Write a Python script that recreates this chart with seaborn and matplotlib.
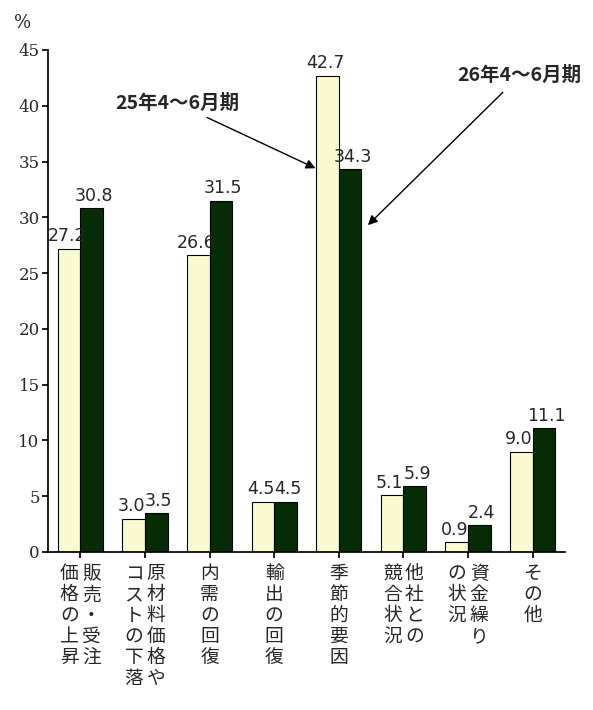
import matplotlib
matplotlib.use("Agg")
import matplotlib.pyplot as plt
import seaborn as sns
import pandas as pd

cats = ["販売・受注価格の上昇", "原材料価格やコストの下落", "内需の回復", "輸出の回復",
        "季節的要因", "他社との競合状況", "資金繰りの状況", "その他"]
label_cols = [["販売・受注", "価格の上昇"], ["原材料価格や", "コストの下落"], ["内需の回復"],
              ["輸出の回復"], ["季節的要因"], ["他社との", "競合状況"], ["資金繰り", "の状況"], ["その他"]]
s25 = [27.2, 3.0, 26.6, 4.5, 42.7, 5.1, 0.9, 9.0]
s26 = [30.8, 3.5, 31.5, 4.5, 34.3, 5.9, 2.4, 11.1]
series = ["25年4〜6月期", "26年4〜6月期"]

sns.set_theme(style="white")
plt.rcParams['font.family'] = ['Noto Sans CJK JP', 'DejaVu Sans']

df = pd.DataFrame({"cat": cats * 2, "val": s25 + s26,
                   "ser": [series[0]] * 8 + [series[1]] * 8})

fig = plt.figure(figsize=(5.93, 7.1), dpi=100)
ax = fig.add_axes([48/593, 1 - 552/710, 517/593, 502/710])
sns.barplot(data=df, x="cat", y="val", hue="ser", palette=["#FFFFCC", "#003300"],
            edgecolor="black", linewidth=0.8, width=0.7, ax=ax, legend=False)
ax.set_ylim(0, 45)
ax.set_xlim(-0.5, 7.5)
ax.set_yticks(range(0, 46, 5))
ax.set_yticklabels([str(v) for v in range(0, 46, 5)], family="DejaVu Serif", fontsize=12)
ax.set_xticks(range(8))
ax.set_xticklabels([])
ax.set_xlabel(""); ax.set_ylabel("")
for s in ["top", "right"]:
    ax.spines[s].set_visible(False)
for s in ["left", "bottom"]:
    ax.spines[s].set_color("black")
ax.tick_params(axis="y", left=True, length=4, color="black", pad=2)
ax.tick_params(axis="x", bottom=True, length=4, color="black")
fig.text(14/593, 1 - 28/710, "%", family="DejaVu Serif", fontsize=13)

for i in range(8):
    ax.text(i - 0.21, s25[i] + 0.3, f"{s25[i]:.1f}", ha="center", va="bottom", fontsize=12.5,
            family="DejaVu Sans")
    ax.text(i + 0.21, s26[i] + 0.3, f"{s26[i]:.1f}", ha="center", va="bottom", fontsize=12.5,
            family="DejaVu Sans")
    cols = label_cols[i]
    n = len(cols)
    offs = [0.0] if n == 1 else [0.17, -0.17]
    for col, o in zip(cols, offs):
        ax.text(i + o, -1.0, "\n".join(col), ha="center", va="top", fontsize=13.5,
                linespacing=1.0, family=['Noto Sans CJK JP', 'DejaVu Sans'])

ax.annotate(series[0], xy=(3.64, 34.4), xytext=(1.5, 40.2), ha="center", va="center",
            fontsize=14, fontweight="bold",
            arrowprops=dict(arrowstyle="-|>", color="black", lw=1, shrinkA=2, shrinkB=0))
ax.annotate(series[1], xy=(4.45, 29.3), xytext=(6.8, 42.7), ha="center", va="center",
            fontsize=14, fontweight="bold",
            arrowprops=dict(arrowstyle="-|>", color="black", lw=1, shrinkA=4, shrinkB=0))

fig.savefig("out.png", dpi=100)
